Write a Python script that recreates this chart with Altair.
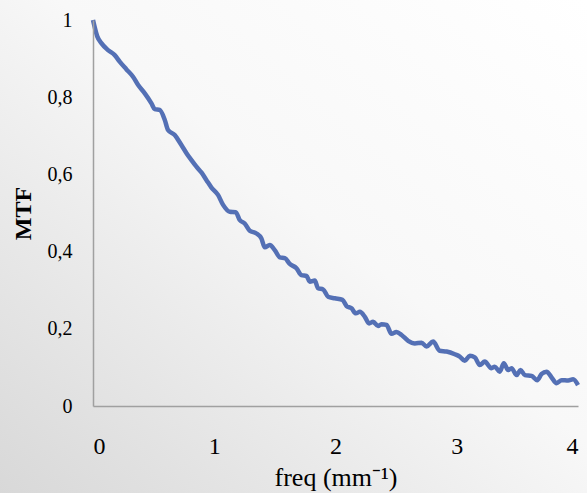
import altair as alt
import pandas as pd

freq = [0, 0.036, 0.069, 0.124, 0.179, 0.220, 0.276, 0.330, 0.371, 0.427,
        0.482, 0.509, 0.550, 0.592, 0.619, 0.674, 0.729, 0.771, 0.812, 0.853,
        0.894, 0.936, 0.977, 1.031, 1.073, 1.128, 1.177, 1.210, 1.251, 1.293,
        1.348, 1.389, 1.417, 1.458, 1.499, 1.541, 1.582, 1.623, 1.678, 1.719,
        1.761, 1.788, 1.829, 1.856, 1.898, 1.939, 1.994, 2.058, 2.091, 2.132,
        2.168, 2.201, 2.242, 2.277, 2.310, 2.351, 2.379, 2.421, 2.462, 2.503,
        2.545, 2.599, 2.655, 2.710, 2.751, 2.805, 2.860, 2.916, 2.984, 3.025,
        3.066, 3.108, 3.149, 3.190, 3.231, 3.286, 3.314, 3.355, 3.388, 3.424,
        3.452, 3.493, 3.526, 3.562, 3.617, 3.663, 3.700, 3.741, 3.782, 3.823,
        3.865, 3.919, 3.960, 4.0]

mtf = [1.0, 0.957, 0.940, 0.922, 0.909, 0.892, 0.872, 0.853, 0.832, 0.810,
       0.784, 0.769, 0.767, 0.741, 0.715, 0.702, 0.676, 0.655, 0.637, 0.620,
       0.605, 0.585, 0.566, 0.547, 0.521, 0.503, 0.502, 0.482, 0.473, 0.454,
       0.447, 0.434, 0.411, 0.417, 0.404, 0.385, 0.383, 0.368, 0.357, 0.339,
       0.337, 0.322, 0.325, 0.305, 0.302, 0.283, 0.279, 0.275, 0.259, 0.253,
       0.240, 0.244, 0.231, 0.214, 0.218, 0.207, 0.212, 0.210, 0.187, 0.192,
       0.184, 0.169, 0.162, 0.164, 0.154, 0.167, 0.143, 0.141, 0.134, 0.128,
       0.117, 0.130, 0.126, 0.106, 0.115, 0.098, 0.102, 0.089, 0.111, 0.093,
       0.098, 0.080, 0.093, 0.080, 0.078, 0.067, 0.083, 0.089, 0.074, 0.059,
       0.067, 0.066, 0.069, 0.054]

x_ticks = [0, 1, 2, 3, 4]
y_ticks = [0, 0.2, 0.4, 0.6, 0.8, 1]

df = pd.DataFrame({"freq": freq, "mtf": mtf})

FONT = "Liberation Serif"
W, H = 485, 386
PAD = {"left": 93, "top": 20, "right": 9, "bottom": 87}

bg = alt.Chart(pd.DataFrame({"k": [0]})).mark_rect(
    fill={
        "gradient": "linear",
        "x1": 1, "y1": 0, "x2": 0, "y2": 1,
        "stops": [
            {"offset": 0, "color": "#ffffff"},
            {"offset": 0.45, "color": "#f8f8f8"},
            {"offset": 1, "color": "#d8d8d8"},
        ],
    },
    strokeWidth=0,
).encode(
    x=alt.value(-PAD["left"]),
    x2=alt.value(W + PAD["right"]),
    y=alt.value(-PAD["top"]),
    y2=alt.value(H + PAD["bottom"]),
)

line = alt.Chart(df).mark_line(
    color="#5470b5", strokeWidth=4.5, clip=False, interpolate="monotone"
).encode(
    x=alt.X(
        "freq:Q",
        scale=alt.Scale(domain=[0, 4], nice=False),
        axis=alt.Axis(
            values=x_ticks,
            title="freq (mm⁻¹)",
            titleFont=FONT,
            titleFontSize=26,
            titleFontWeight="normal",
            titleColor="#000000",
            titlePadding=6,
            labelFont=FONT,
            labelFontSize=24,
            labelColor="#000000",
            labelPadding=28,
            ticks=False,
            grid=False,
            domainColor="#a0a0a0",
            domainWidth=1.5,
            zindex=1,
        ),
    ),
    y=alt.Y(
        "mtf:Q",
        scale=alt.Scale(domain=[0, 1], nice=False),
        axis=alt.Axis(
            values=y_ticks,
            title="MTF",
            titleFont=FONT,
            titleFontSize=24,
            titleFontWeight="bold",
            titleColor="#000000",
            titlePadding=12,
            labelFont=FONT,
            labelFontSize=20,
            labelColor="#000000",
            labelPadding=21,
            labelExpr="replace(format(datum.value, '~g'), '.', ',')",
            ticks=False,
            grid=False,
            domainColor="#a0a0a0",
            domainWidth=1.5,
            zindex=1,
        ),
    ),
)

chart = alt.layer(bg, line).properties(
    width=W,
    height=H,
    autosize=alt.AutoSizeParams(type="none"),
    padding=PAD,
    background="#ffffff",
).configure_view(stroke=None)

chart.save("out.html", embed_options={"renderer": "svg", "actions": False})
